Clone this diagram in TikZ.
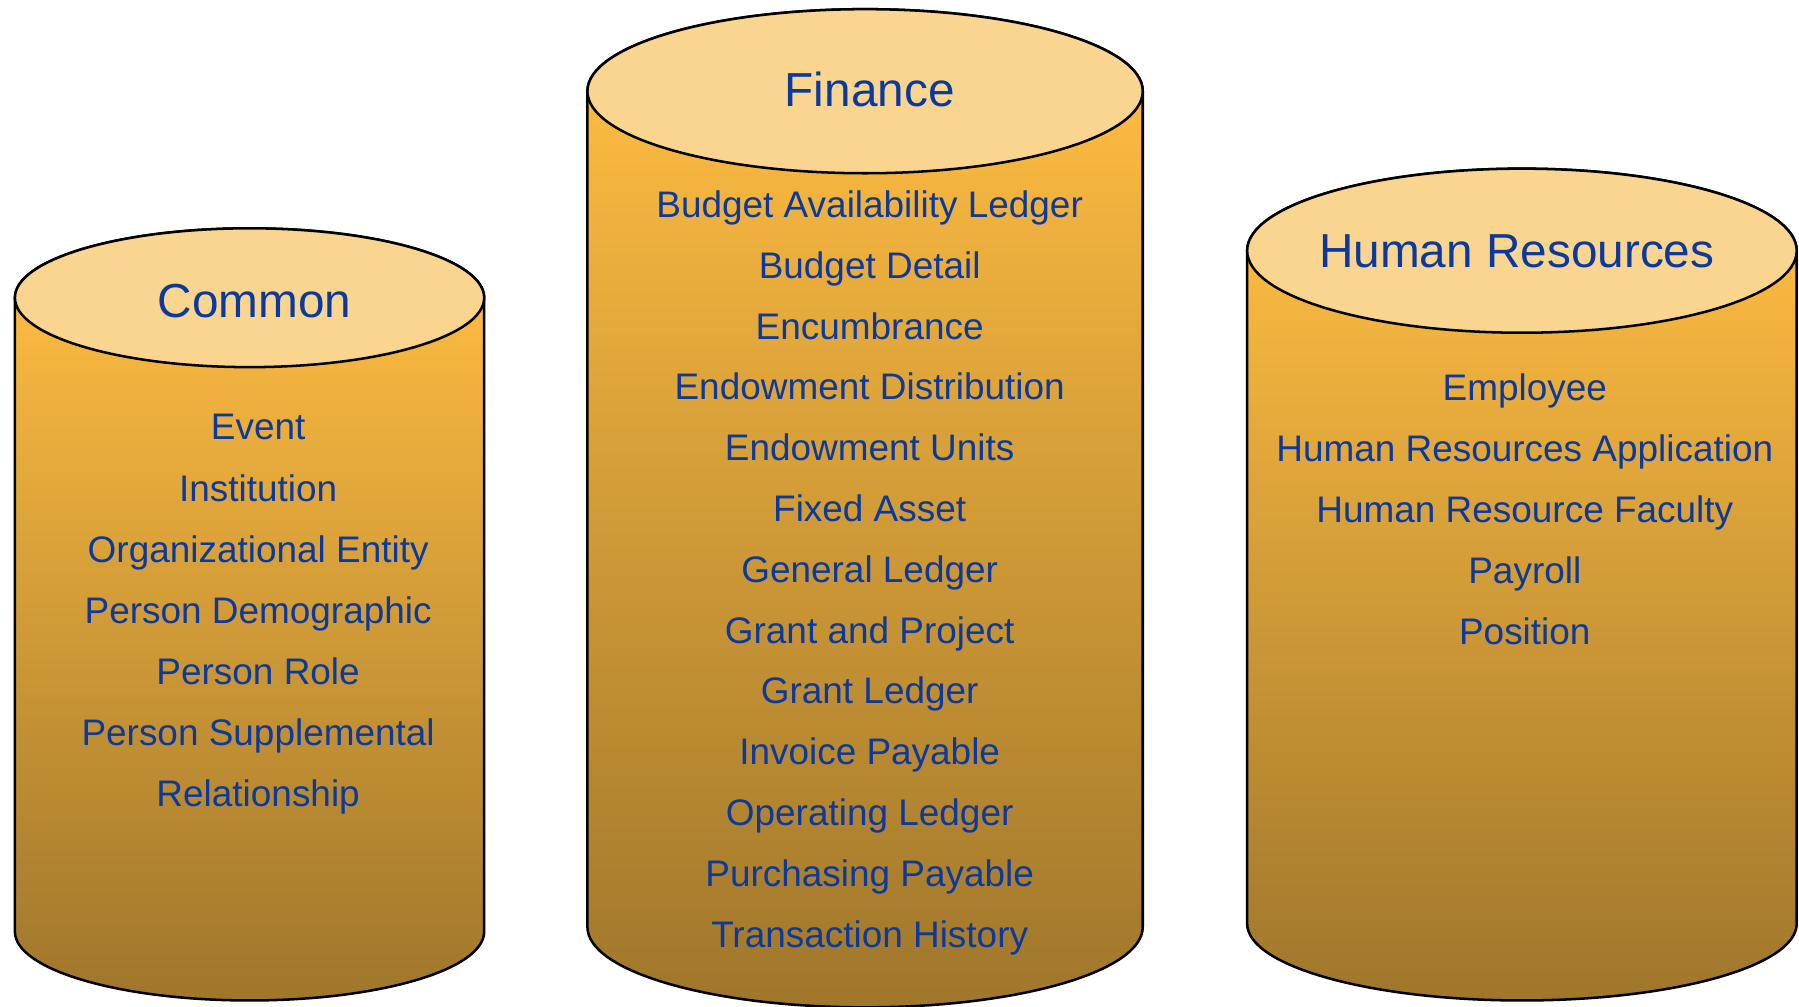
\documentclass[tikz,border=0pt]{standalone}
\usepackage{fontspec}
\setmainfont{Liberation Sans}
\definecolor{topc}{HTML}{FAD590}
\definecolor{bodytop}{HTML}{FBBA41}
\definecolor{bodybot}{HTML}{9F762B}
\definecolor{txt}{HTML}{0B3A9C}
\pgfdeclareverticalshading{cylshade}{100bp}{color(0bp)=(bodybot); color(25bp)=(bodybot); color(70.5bp)=(bodytop); color(100bp)=(bodytop)}
\begin{document}
\begin{tikzpicture}[x=0.5pt,y=-0.5pt,
  item/.style={text=txt,font=\fontsize{16.1}{18}\selectfont,inner sep=0pt,anchor=base},
  title/.style={text=txt,font=\fontsize{20.8}{24}\selectfont,inner sep=0pt,anchor=base},
  body/.style={draw=black,line width=1.1pt,shade,shading=cylshade},
  lid/.style={draw=black,line width=1.1pt,fill=topc}]
\useasboundingbox (0,0) rectangle (1568,877);
% Common
\path[body] (13,259.5) -- (13,812) arc[start angle=180,end angle=0,x radius=204.5,y radius=60] -- (422,259.5) arc[start angle=0,end angle=-180,x radius=204.5,y radius=60.5] -- cycle;
\path[lid] (217.5,259.5) ellipse[x radius=204.5,y radius=60.5];
% Finance
\path[body] (512,79.5) -- (512,808) arc[start angle=180,end angle=0,x radius=242,y radius=70] -- (996,79.5) arc[start angle=0,end angle=-180,x radius=242,y radius=71.5] -- cycle;
\path[lid] (754,79.5) ellipse[x radius=242,y radius=71.5];
% Human Resources
\path[body] (1087,218.5) -- (1087,805) arc[start angle=180,end angle=0,x radius=239.5,y radius=67] -- (1566,218.5) arc[start angle=0,end angle=-180,x radius=239.5,y radius=71.5] -- cycle;
\path[lid] (1326.5,218.5) ellipse[x radius=239.5,y radius=71.5];
% titles
\node[title] (tc) at (222,276.5) {Common};
\node[title] (tf) at (758,92.5) {Finance};
\node[title] (th) at (1322,233.5) {Human Resources};
% Common items
\foreach \t [count=\i] in {Event,Institution,Organizational Entity,Person Demographic,Person Role,Person Supplemental,Relationship}
  \node[item] (c\i) at (225,{383.5+53.2*(\i-1)}) {\t};
% Finance items
\foreach \t [count=\i] in {Budget Availability Ledger,Budget Detail,Encumbrance,Endowment Distribution,Endowment Units,Fixed Asset,General Ledger,Grant and Project,Grant Ledger,Invoice Payable,Operating Ledger,Purchasing Payable,Transaction History}
  \node[item] (f\i) at (758,{189.5+53*(\i-1)}) {\t};
% HR items
\foreach \t [count=\i] in {Employee,Human Resources Application,Human Resource Faculty,Payroll,Position}
  \node[item] (h\i) at (1329,{349.5+53*(\i-1)}) {\t};
\end{tikzpicture}
\end{document}
